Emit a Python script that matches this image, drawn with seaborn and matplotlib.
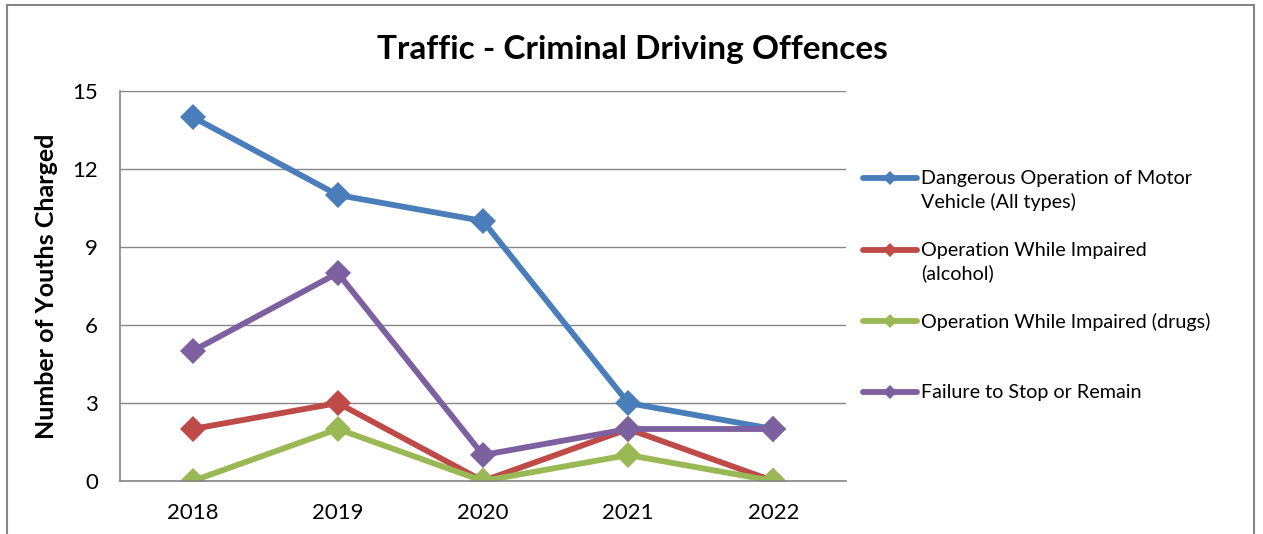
import numpy as np
import pandas as pd
import matplotlib
matplotlib.use('Agg')
import matplotlib.pyplot as plt
import seaborn as sns
from matplotlib.legend_handler import HandlerLine2D
from matplotlib.patches import Rectangle

# data
years = [2018, 2019, 2020, 2021, 2022]
dangerous = [14, 11, 10, 3, 2]
impaired_alcohol = [2, 3, 0, 2, 0]
impaired_drugs = [0, 2, 0, 1, 0]
fail_to_stop = [5, 8, 1, 2, 2]

series_names = ['Dangerous Operation of Motor\nVehicle (All types)',
                'Operation While Impaired\n(alcohol)',
                'Operation While Impaired (drugs)\n',
                'Failure to Stop or Remain\n']
series_values = [dangerous, impaired_alcohol, impaired_drugs, fail_to_stop]
colors = ['#4a7ebb', '#be4b48', '#98b954', '#7d60a0']

rows = []
for name, vals in zip(series_names, series_values):
    for y, v in zip(years, vals):
        rows.append({'year': y, 'count': v, 'series': name})
df = pd.DataFrame(rows)

sns.set_style('white')
plt.rcParams['font.family'] = ['Lato', 'DejaVu Sans']
plt.rcParams['text.color'] = 'black'
plt.rcParams['axes.labelcolor'] = 'black'
plt.rcParams['xtick.color'] = 'black'
plt.rcParams['ytick.color'] = 'black'

fig = plt.figure(figsize=(12.63, 5.34), dpi=100)
ax = fig.add_axes([120/1263, 53/534, 726/1263, 390/534])

sns.lineplot(data=df, x='year', y='count', hue='series', palette=colors,
             marker='D', markersize=13, markeredgewidth=0, linewidth=4.2,
             ax=ax, legend=False)

ax.set_xlim(2017.5, 2022.5)
ax.set_ylim(0, 15)
ax.set_xticks(years)
ax.set_yticks([0, 3, 6, 9, 12, 15])
ax.tick_params(axis='both', length=0, labelsize=16, pad=16)
ax.yaxis.grid(True, color='#868686', linewidth=1)
ax.set_axisbelow(True)
for s in ['top', 'right']:
    ax.spines[s].set_visible(False)
for s in ['left', 'bottom']:
    ax.spines[s].set_color('#868686')
    ax.spines[s].set_linewidth(1.2)
ax.set_xlabel('')
ax.set_ylabel('Number of Youths Charged', fontsize=18, fontweight='bold', labelpad=10)

fig.text(632/1263, 1 - 50/534, 'Traffic - Criminal Driving Offences',
         ha='center', va='center', fontsize=24, fontweight='bold')


# legend handle sits on the first line of each two-line label
class FirstLineHandler(HandlerLine2D):
    def create_artists(self, legend, orig_handle, xdescent, ydescent,
                       width, height, fontsize, trans):
        arts = super().create_artists(legend, orig_handle, xdescent, ydescent,
                                      width, height, fontsize, trans)
        for a in arts:
            a.set_ydata(np.asarray(a.get_ydata()) + fontsize * 0.62)
        return arts


handles = [plt.Line2D([], [], color=c, linewidth=4.2, marker='D', markersize=7,
                      markeredgewidth=0) for c in colors]
leg = fig.legend(handles, series_names, loc='upper left',
                 bbox_to_anchor=(863/1263, 1 - 170/534), frameon=False,
                 fontsize=14.2, handlelength=2.75, handletextpad=0.2,
                 labelspacing=1.55, borderpad=0, borderaxespad=0,
                 handler_map={h: FirstLineHandler() for h in handles})
for t in leg.get_texts():
    t.set_linespacing(1.4)

fig.add_artist(Rectangle((7/1263, -0.05), 1247/1263, 1.05 - 5/534,
                         transform=fig.transFigure, fill=False,
                         edgecolor='#868686', linewidth=1.5))

fig.savefig('out.png', dpi=100)
